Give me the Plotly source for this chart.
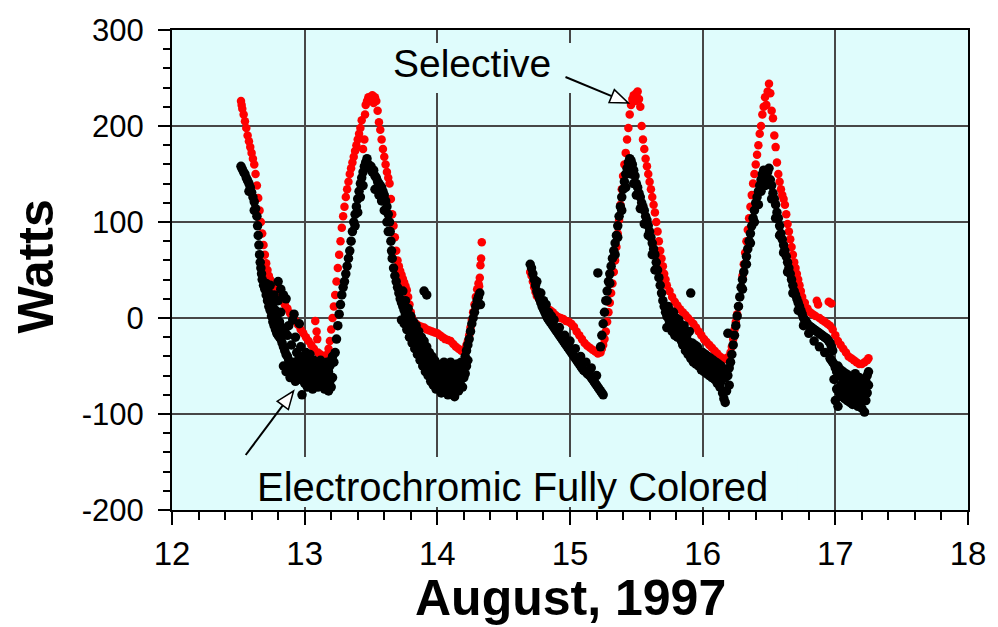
import plotly.graph_objects as go

# ---------------- data ----------------
# Selective glazing (red), day of August 1997 vs Watts
selective_day = [
    12.52, 12.525, 12.53, 12.54, 12.55, 12.56, 12.57, 12.58, 12.59, 12.60,
    12.61, 12.62, 12.63, 12.64, 12.65, 12.66, 12.67, 12.68, 12.69, 12.70,
    12.71, 12.72, 12.73, 12.74, 12.75, 12.77, 12.79, 12.81, 12.83, 12.85,
    12.87, 12.89, 12.91, 12.93, 12.95, 12.97, 12.99, 13.01, 13.03, 13.05,
    13.07, 13.08, 13.09, 13.095, 13.10, 13.12, 13.14, 13.15, 13.17, 13.18,
    13.19, 13.20, 13.21, 13.22, 13.23, 13.24, 13.25, 13.26, 13.27, 13.28,
    13.29, 13.30, 13.31, 13.32, 13.33, 13.34, 13.35, 13.36, 13.37, 13.38,
    13.39, 13.40, 13.41, 13.42, 13.43, 13.44, 13.45, 13.455, 13.46, 13.47,
    13.48, 13.49, 13.50, 13.51, 13.52, 13.53, 13.54, 13.55, 13.56, 13.57,
    13.58, 13.59, 13.60, 13.61, 13.62, 13.63, 13.64, 13.65, 13.66, 13.67,
    13.68, 13.69, 13.70, 13.71, 13.72, 13.73, 13.74, 13.75, 13.76, 13.77,
    13.78, 13.79, 13.80, 13.81, 13.82, 13.84, 13.86, 13.88, 13.90, 13.92,
    13.94, 13.96, 13.98, 14.00, 14.02, 14.04, 14.06, 14.08, 14.10, 14.12,
    14.14, 14.16, 14.18, 14.20, 14.21, 14.22, 14.23, 14.24, 14.25, 14.26,
    14.27, 14.28, 14.29, 14.30, 14.31, 14.315, 14.32, 14.325, 14.33, 14.335,
    14.70, 14.71, 14.72, 14.73, 14.74, 14.75, 14.77, 14.79, 14.81, 14.83,
    14.85, 14.87, 14.89, 14.91, 14.93, 14.95, 14.97, 14.99, 15.01, 15.03,
    15.05, 15.07, 15.09, 15.11, 15.13, 15.15, 15.17, 15.19, 15.21, 15.23,
    15.24, 15.25, 15.26, 15.27, 15.28, 15.29, 15.30, 15.31, 15.32, 15.33,
    15.34, 15.35, 15.36, 15.37, 15.38, 15.39, 15.40, 15.41, 15.42, 15.43,
    15.44, 15.45, 15.46, 15.47, 15.48, 15.49, 15.50, 15.51, 15.52, 15.53,
    15.54, 15.55, 15.56, 15.57, 15.58, 15.59, 15.60, 15.61, 15.62, 15.63,
    15.64, 15.65, 15.66, 15.67, 15.68, 15.69, 15.70, 15.71, 15.72, 15.73,
    15.75, 15.77, 15.79, 15.81, 15.83, 15.85, 15.87, 15.89, 15.91, 15.93,
    15.95, 15.97, 15.99, 16.01, 16.03, 16.05, 16.07, 16.09, 16.11, 16.13,
    16.15, 16.17, 16.19, 16.21, 16.22, 16.23, 16.24, 16.25, 16.26, 16.27,
    16.28, 16.29, 16.30, 16.31, 16.32, 16.33, 16.34, 16.35, 16.36, 16.37,
    16.38, 16.39, 16.40, 16.41, 16.42, 16.43, 16.44, 16.45, 16.46, 16.47,
    16.48, 16.49, 16.50, 16.51, 16.52, 16.53, 16.54, 16.55, 16.56, 16.57,
    16.58, 16.59, 16.60, 16.61, 16.62, 16.63, 16.64, 16.65, 16.66, 16.67,
    16.68, 16.69, 16.70, 16.71, 16.72, 16.73, 16.74, 16.75, 16.77, 16.79,
    16.81, 16.83, 16.85, 16.86, 16.87, 16.88, 16.90, 16.92, 16.94, 16.95,
    16.96, 16.97, 16.98, 17.00, 17.02, 17.04, 17.06, 17.08, 17.10, 17.12,
    17.14, 17.16, 17.18, 17.20, 17.22, 17.24, 17.25,
]
selective_watts = [
    226, 222, 218, 212, 205, 198, 190, 184, 178, 172,
    166, 160, 150, 138, 125, 112, 100, 88, 76, 66,
    57, 50, 44, 40, 36, 31, 26, 22, 18, 14,
    10, 5, 1, -3, -7, -12, -16, -20, -24, -28,
    -32, -3, -14, -22, -36, -38, -40, -42, -38, -32,
    -24, -12, 0, 12, 24, 38, 52, 66, 80, 94,
    106, 116, 126, 134, 142, 150, 156, 162, 168, 174,
    180, 186, 192, 198, 206, 176, 186, 212, 222, 226,
    230, 226, 228, 232, 224, 230, 226, 216, 204, 196,
    186, 176, 168, 160, 152, 146, 140, 124, 108, 96,
    84, 70, 60, 54, 49, 45, 41, 37, 33, 29,
    22, 14, 6, 0, -4, -6, -8, -9, -10, -12,
    -13, -14, -15, -16, -18, -20, -22, -23, -24, -27,
    -30, -32, -34, -34, -32, -28, -24, -18, -10, -2,
    6, 14, 22, 30, 36, 33, 42, 55, 62, 79,
    48, 44, 38, 32, 27, 23, 19, 15, 12, 10,
    8, 6, 3, 1, 0, -1, -3, -4, -6, -9,
    -14, -18, -22, -26, -29, -31, -33, -35, -37, -36,
    -32, -28, -22, -14, -4, 6, 16, 26, 36, 48,
    60, 74, 88, 102, 118, 134, 148, 160, 172, 186,
    198, 212, 222, 228, 232, 226, 234, 236, 228, 220,
    200, 186, 176, 166, 158, 150, 142, 134, 126, 118,
    110, 100, 90, 80, 70, 62, 54, 46, 40, 34,
    28, 22, 17, 13, 9, 6, 3, 0, -3, -6,
    -10, -14, -18, -22, -25, -28, -31, -34, -37, -40,
    -42, -43, -41, -36, -30, -22, -12, -4, 4, 12,
    22, 32, 44, 56, 68, 80, 92, 104, 116, 128,
    140, 150, 160, 170, 180, 192, 200, 212, 220, 230,
    222, 236, 244, 234, 216, 208, 190, 178, 162, 150,
    142, 134, 128, 124, 118, 108, 98, 90, 82, 74,
    66, 58, 52, 46, 40, 34, 28, 22, 16, 10,
    6, 4, 2, 18, 14, 0, -2, -4, -6, 17,
    -8, 15, -12, -18, -24, -28, -32, -36, -40, -42,
    -44, -46, -48, -48, -46, -44, -42,
]

# Electrochromic fully colored glazing (black)
ec_day = [
    12.52, 12.53, 12.54, 12.55, 12.56, 12.57, 12.58, 12.59, 12.60, 12.61,
    12.62, 12.63, 12.64, 12.645, 12.65, 12.655, 12.66, 12.665, 12.67, 12.675,
    12.68, 12.69, 12.70, 12.71, 12.71, 12.72, 12.72, 12.73, 12.73, 12.74,
    12.74, 12.75, 12.75, 12.76, 12.76, 12.77, 12.77, 12.78, 12.78, 12.79,
    12.79, 12.80, 12.80, 12.80, 12.81, 12.81, 12.82, 12.82, 12.82, 12.83,
    12.83, 12.84, 12.84, 12.84, 12.85, 12.85, 12.86, 12.86, 12.86, 12.87,
    12.87, 12.88, 12.88, 12.89, 12.89, 12.90, 12.90, 12.91, 12.91, 12.92,
    12.92, 12.93, 12.93, 12.94, 12.94, 12.95, 12.95, 12.96, 12.96, 12.97,
    12.97, 12.98, 12.98, 12.99, 12.99, 13.00, 13.00, 13.01, 13.01, 13.02,
    13.02, 13.03, 13.03, 13.04, 13.04, 13.05, 13.05, 13.06, 13.06, 13.07,
    13.07, 13.08, 13.08, 13.09, 13.09, 13.10, 13.10, 13.11, 13.11, 13.12,
    13.12, 13.13, 13.13, 13.14, 13.14, 13.15, 13.15, 13.16, 13.16, 13.17,
    13.17, 13.18, 13.18, 13.19, 13.19, 13.20, 13.20, 13.21, 13.21, 13.22,
    13.23, 13.24, 13.25, 13.26, 13.27, 13.28, 13.29, 13.30, 13.31, 13.32,
    13.33, 13.34, 13.35, 13.36, 13.37, 13.38, 13.39, 13.40, 13.41, 13.42,
    13.43, 13.44, 13.45, 13.46, 13.47, 13.48, 13.49, 13.50, 13.51, 13.52,
    13.53, 13.54, 13.55, 13.56, 13.57, 13.58, 13.59, 13.60, 13.61, 13.62,
    13.63, 13.64, 13.645, 13.65, 13.655, 13.66, 13.67, 13.68, 13.69, 13.70,
    13.71, 13.72, 13.73, 13.73, 13.74, 13.74, 13.75, 13.75, 13.76, 13.76,
    13.77, 13.77, 13.78, 13.78, 13.79, 13.79, 13.80, 13.80, 13.81, 13.81,
    13.82, 13.82, 13.83, 13.83, 13.84, 13.84, 13.85, 13.85, 13.86, 13.86,
    13.87, 13.87, 13.88, 13.88, 13.89, 13.89, 13.90, 13.90, 13.90, 13.91,
    13.91, 13.92, 13.92, 13.93, 13.93, 13.94, 13.94, 13.95, 13.95, 13.96,
    13.96, 13.97, 13.97, 13.98, 13.98, 13.99, 13.99, 14.00, 14.00, 14.01,
    14.01, 14.02, 14.02, 14.03, 14.03, 14.04, 14.04, 14.05, 14.05, 14.06,
    14.06, 14.07, 14.07, 14.08, 14.08, 14.09, 14.09, 14.10, 14.10, 14.11,
    14.11, 14.12, 14.12, 14.13, 14.13, 14.14, 14.14, 14.15, 14.15, 14.16,
    14.16, 14.17, 14.17, 14.18, 14.18, 14.19, 14.19, 14.20, 14.20, 14.21,
    14.21, 14.22, 14.22, 14.23, 14.23, 14.24, 14.25, 14.26, 14.27, 14.28,
    14.29, 14.30, 14.31, 14.32, 14.325,
    13.56, 13.58, 13.60, 13.62, 13.63, 13.53, 13.44, 13.42, 13.40, 13.38,
    12.58, 12.62,
    14.70, 14.71, 14.72, 14.73, 14.74, 14.75, 14.76, 14.77, 14.78, 14.79,
    14.80, 14.80, 14.81, 14.82, 14.83, 14.84, 14.84, 14.85, 14.86, 14.87,
    14.88, 14.88, 14.89, 14.90, 14.91, 14.92, 14.92, 14.93, 14.94, 14.95,
    14.96, 14.96, 14.97, 14.98, 14.99, 15.00, 15.00, 15.01, 15.02, 15.03,
    15.04, 15.04, 15.05, 15.06, 15.07, 15.08, 15.08, 15.09, 15.10, 15.11,
    15.12, 15.12, 15.13, 15.14, 15.15, 15.16, 15.16, 15.17, 15.18, 15.19,
    15.20, 15.20, 15.21, 15.22, 15.23, 15.24, 15.25, 15.21, 15.23, 15.24,
    15.25, 15.26, 15.27, 15.28, 15.29, 15.30, 15.31, 15.32, 15.33, 15.34,
    15.35, 15.36, 15.37, 15.38, 15.39, 15.40, 15.41, 15.42, 15.43, 15.44,
    15.45, 15.46, 15.47, 15.48, 15.49, 15.50, 15.51, 15.52, 15.53, 15.54,
    15.55, 15.56, 15.57, 15.58, 15.59, 15.60, 15.61, 15.62, 15.63, 15.64,
    15.65, 15.66, 15.67, 15.68, 15.69, 15.70, 15.71, 15.72, 15.73, 15.73,
    15.74, 15.74, 15.75, 15.75, 15.76, 15.76, 15.77, 15.77, 15.78, 15.78,
    15.79, 15.79, 15.80, 15.80, 15.81, 15.81, 15.82, 15.82, 15.83, 15.83,
    15.84, 15.84, 15.85, 15.85, 15.86, 15.86, 15.87, 15.87, 15.88, 15.88,
    15.89, 15.89, 15.90, 15.90, 15.91, 15.91, 15.91, 15.92, 15.92, 15.93,
    15.93, 15.94, 15.94, 15.95, 15.95, 15.96, 15.96, 15.97, 15.97, 15.98,
    15.98, 15.99, 15.99, 16.00, 16.00, 16.01, 16.01, 16.02, 16.02, 16.03,
    16.03, 16.04, 16.04, 16.05, 16.05, 16.06, 16.06, 16.07, 16.07, 16.08,
    16.08, 16.09, 16.09, 16.10, 16.10, 16.11, 16.11, 16.12, 16.12, 16.13,
    16.13, 16.14, 16.14, 16.15, 16.15, 16.16, 16.16, 16.17, 16.17, 16.18,
    16.18, 16.19, 16.19, 16.20, 16.20, 16.21, 16.22, 16.23, 16.24, 16.25,
    16.26, 16.27, 16.28, 16.29, 16.30, 16.31, 16.32, 16.33, 16.34, 16.35,
    16.36, 16.37, 16.38, 16.39, 16.40, 16.41, 16.42, 16.43, 16.44, 16.45,
    16.46, 16.47, 16.48, 16.49, 16.50, 16.51, 16.52, 16.53, 16.54, 16.55,
    16.56, 16.57, 16.58, 16.59, 16.60, 16.61, 16.62, 16.63, 16.64, 16.65,
    16.66, 16.67, 16.68, 16.69, 16.70, 16.71, 16.72, 16.73, 16.74, 16.75,
    16.76, 16.77, 16.78, 16.79, 16.80, 16.81, 16.82, 16.83, 16.84, 16.85,
    16.86, 16.87, 16.88, 16.89, 16.90, 16.91, 16.92, 16.93, 16.94, 16.95,
    16.96, 16.96, 16.97, 16.97, 16.98, 16.98, 16.99, 16.99, 17.00, 17.00,
    17.01, 17.01, 17.02, 17.02, 17.03, 17.03, 17.04, 17.04, 17.05, 17.05,
    17.06, 17.06, 17.07, 17.07, 17.08, 17.08, 17.09, 17.09, 17.10, 17.10,
    17.11, 17.11, 17.12, 17.12, 17.13, 17.13, 17.14, 17.14, 17.15, 17.15,
    17.16, 17.16, 17.17, 17.17, 17.18, 17.18, 17.19, 17.19, 17.20, 17.20,
    17.21, 17.21, 17.22, 17.22, 17.23, 17.23, 17.24, 17.24, 17.25, 17.25,
    15.46, 15.48, 15.50, 15.53, 15.56, 15.59, 15.62, 15.64, 15.42, 15.39,
    16.47, 16.50, 16.52, 16.55, 16.58, 16.61, 16.64, 16.68, 16.72, 16.76,
    16.80, 16.84, 16.88, 16.92, 16.44, 16.42, 16.39, 16.36, 16.33, 16.30,
    14.75, 14.78, 14.82, 14.86, 15.34, 15.36, 15.30, 15.28,
]
ec_watts = [
    158, 155, 152, 150, 146, 143, 140, 136, 131, 126,
    121, 114, 106, 96, 86, 76, 66, 58, 52, 46,
    40, 34, 30, 24, 36, 18, 30, 12, 26, 8,
    34, 2, 20, -4, 14, -8, 24, -12, 8, -16,
    2, -18, 18, 38, -20, -4, -22, 6, 30, -26,
    -10, -30, -50, 24, -14, -34, -56, -38, 20, -18,
    -40, -8, -44, -48, -62, -28, -52, -2, -46, 4,
    -58, -20, -66, -36, -50, -44, -60, -6, -54, -30,
    -64, -48, -80, -40, -58, -50, -68, -36, -60, -44,
    -72, -54, -64, -38, -70, -48, -62, -56, -74, -44,
    -66, -52, -70, -46, -62, -56, -72, -50, -66, -44,
    -60, -54, -70, -48, -64, -58, -74, -52, -68, -46,
    -62, -56, -76, -50, -66, -44, -72, -40, -62, -46,
    -36, -22, -8, 4, 14, 24, 32, 38, 46, 54,
    62, 70, 80, 90, 100, 108, 116, 124, 132, 140,
    146, 152, 158, 162, 166, 160, 156, 158, 152, 154,
    148, 146, 142, 140, 138, 136, 132, 128, 122, 116,
    108, 100, 90, 80, 70, 62, 52, 44, 38, 32,
    26, 20, 16, -2, 12, 28, 8, -6, 4, 18,
    0, -12, -4, 10, -8, -20, -10, 2, -14, -26,
    -16, -4, -20, -32, -22, -8, -26, -38, -28, -14,
    -30, -44, -32, -20, -36, -50, -40, -24, 28, -42,
    -56, -30, 24, -46, -60, -36, -52, -48, -66, -40,
    -56, -50, -70, -44, -60, -54, -74, -48, -64, -56,
    -72, -50, -66, -58, -78, -52, -68, -46, -62, -56,
    -74, -50, -66, -58, -80, -52, -70, -46, -62, -56,
    -76, -50, -68, -60, -82, -54, -72, -48, -64, -58,
    -76, -52, -70, -46, -64, -56, -72, -48, -62, -40,
    -58, -34, -50, -28, -44, -22, -14, -6, 0, 6,
    12, 18, 22, 26, 14,
    128, 122, 112, 100, 90, 134, 138, 126, 110, 96,
    132, 112,
    56, 52, 46, 40, 34, 28, 24, 20, 16, 12,
    9, 18, 6, 3, 0, -2, 6, -4, -6, -8,
    -10, -2, -12, -14, -16, -18, -10, -20, -22, -24,
    -26, -18, -28, -30, -32, -34, -24, -36, -38, -40,
    -42, -32, -44, -46, -48, -50, -40, -52, -54, -55,
    -56, -46, -58, -59, -60, -62, -52, -64, -66, -68,
    -70, -60, -72, -74, -76, -78, -80, 47, -30, -18,
    -6, 6, 18, 28, 38, 46, 54, 62, 70, 78,
    86, 96, 106, 116, 126, 134, 142, 150, 156, 162,
    166, 164, 160, 154, 148, 140, 136, 130, 126, 120,
    116, 112, 106, 102, 96, 90, 84, 78, 72, 66,
    58, 50, 42, 34, 26, 18, 12, 6, 2, -10,
    0, 12, -4, 8, -8, 4, -2, -14, -10, 6,
    -6, -18, -12, 0, -8, -20, -14, -2, -18, -6,
    -10, -24, -16, -28, -20, -8, -22, -34, -18, -28,
    -24, -38, -28, -14, 26, -30, -42, -26, -36, -32,
    -46, -28, -40, -34, -48, -30, -42, -36, -50, -38,
    -46, -40, -54, -36, -48, -42, -56, -38, -50, -44,
    -58, -40, -52, -46, -60, -42, -54, -48, -62, -44,
    -58, -50, -64, -46, -60, -52, -68, -48, -62, -54,
    -72, -50, -66, -58, -78, -54, -84, -62, -88, -56,
    -76, -16, -60, -52, -70, -46, -38, -28, -18, -8,
    2, 12, 22, 32, 40, 48, 56, 64, 72, 80,
    88, 96, 104, 112, 120, 126, 132, 138, 144, 150,
    154, 150, 146, 152, 156, 144, 138, 130, 124, 118,
    110, 104, 96, 88, 82, 76, 70, 64, 58, 52,
    46, 40, 34, 28, 24, 20, 16, 12, 8, 4,
    0, -2, -4, -6, -8, -9, -10, -11, -12, -13,
    -14, -15, -16, -17, -18, -19, -20, -21, -22, -24,
    -42, -26, -44, -30, -46, -34, -48, -64, -52, -86,
    -56, -74, -50, -92, -60, -78, -54, -70, -62, -82,
    -56, -72, -64, -84, -58, -74, -66, -86, -60, -78,
    -68, -88, -62, -80, -70, -90, -64, -82, -58, -76,
    -66, -86, -72, -92, -62, -80, -68, -88, -74, -94,
    -64, -82, -70, -98, -66, -86, -60, -78, -56, -70,
    150, 140, 128, 114, 98, 86, 66, 50, 136, 112,
    138, 140, 124, 104, 86, 68, 48, 26, 8, -8,
    -16, -24, -30, -36, 132, 118, 100, 78, 56, 30,
    38, 26, 14, 2, 66, 84, 36, 18,
]

x_ticks = [12, 13, 14, 15, 16, 17, 18]
y_ticks = [-200, -100, 0, 100, 200, 300]
y_tick_text = ["-200", "-100", "0", "100", "200", "300"]

# ---------------- styling / layout ----------------
W, H = 998, 627
ML, MR, MT, MB = 172, 27, 30, 117
X0, X1 = 12, 18
Y0, Y1 = -200, 300
PW = W - ML - MR
PH = H - MT - MB
BG = "#dffcfc"
FONT = "Liberation Sans, Arial, Helvetica, sans-serif"


def px2x(px):
    return X0 + (px - ML) / PW * (X1 - X0)


def py2y(py):
    return Y1 - (py - MT) / PH * (Y1 - Y0)


fig = go.Figure()
fig.add_trace(go.Scatter(
    x=selective_day, y=selective_watts, mode="markers", name="Selective",
    marker=dict(color="#ff0000", size=8.5, line=dict(width=0)),
))
fig.add_trace(go.Scatter(
    x=ec_day, y=ec_watts, mode="markers", name="Electrochromic Fully Colored",
    marker=dict(color="#000000", size=9.5, line=dict(width=0)),
))

shapes = []
# background boxes behind the labels (hide grid lines, stay under data)
for (a, b, c, d) in [(384, 43, 582, 93), (230, 457, 800, 507)]:
    shapes.append(dict(type="rect", xref="x", yref="y", layer="between",
                       x0=px2x(a), x1=px2x(c), y0=py2y(b), y1=py2y(d),
                       fillcolor=BG, line=dict(width=0)))


def arrow(tail, tip, length=18, half=7):
    tx, ty = tail
    hx, hy = tip
    dx, dy = hx - tx, hy - ty
    n = (dx * dx + dy * dy) ** 0.5
    ux, uy = dx / n, dy / n
    bx, by = hx - length * ux, hy - length * uy
    px_, py_ = -uy, ux
    p1 = (bx + half * px_, by + half * py_)
    p2 = (bx - half * px_, by - half * py_)
    shapes.append(dict(type="line", xref="x", yref="y", layer="above",
                       x0=px2x(tx), y0=py2y(ty), x1=px2x(bx), y1=py2y(by),
                       line=dict(color="black", width=2)))
    path = "M {} {} L {} {} L {} {} Z".format(
        px2x(hx), py2y(hy), px2x(p1[0]), py2y(p1[1]), px2x(p2[0]), py2y(p2[1]))
    shapes.append(dict(type="path", xref="x", yref="y", layer="above", path=path,
                       fillcolor="white", line=dict(color="black", width=1.5)))


arrow((567, 77), (630, 103))
arrow((246, 455), (294, 391))

annotations = [
    dict(text="Selective", x=px2x(473), y=py2y(63), xref="x", yref="y",
         showarrow=False, font=dict(family=FONT, size=39, color="black"),
         xanchor="center", yanchor="middle"),
    dict(text="Electrochromic Fully Colored", x=px2x(514), y=py2y(487), xref="x", yref="y",
         showarrow=False, font=dict(family=FONT, size=40, color="black"),
         xanchor="center", yanchor="middle"),
    dict(text="<b>Watts</b>", x=(35 - ML) / PW, y=(MT + PH - 267) / PH,
         xref="paper", yref="paper", textangle=-90, showarrow=False,
         font=dict(family=FONT, size=50, color="black"),
         xanchor="center", yanchor="middle"),
    dict(text="<b>August, 1997</b>", x=(572 - ML) / PW, y=(MT + PH - 598) / PH,
         xref="paper", yref="paper", showarrow=False,
         font=dict(family=FONT, size=50, color="black"),
         xanchor="center", yanchor="middle"),
]

axis_common = dict(
    showline=True, linecolor="black", linewidth=2, mirror=True,
    showgrid=True, gridcolor="#474747", gridwidth=2,
    zeroline=False, ticks="outside", tickcolor="black", tickwidth=2,
)

fig.update_layout(
    width=W, height=H,
    margin=dict(l=ML, r=MR, t=MT, b=MB, pad=0),
    paper_bgcolor="white", plot_bgcolor=BG,
    showlegend=False,
    xaxis=dict(range=[X0, X1], tickvals=x_ticks, ticklen=13,
               ticklabelstandoff=0,
               tickfont=dict(family=FONT, size=33, color="black"),
               minor=dict(dtick=0.2, ticks="outside", ticklen=8, tickwidth=2,
                          tickcolor="black", showgrid=False),
               **axis_common),
    yaxis=dict(range=[Y0, Y1], tickvals=y_ticks, ticktext=y_tick_text, ticklen=12,
               ticklabelstandoff=8,
               tickfont=dict(family=FONT, size=31, color="black"),
               minor=dict(dtick=20, ticks="outside", ticklen=7, tickwidth=2,
                          tickcolor="black", showgrid=False),
               **axis_common),
    shapes=shapes, annotations=annotations,
)

fig.write_html("out.html")
